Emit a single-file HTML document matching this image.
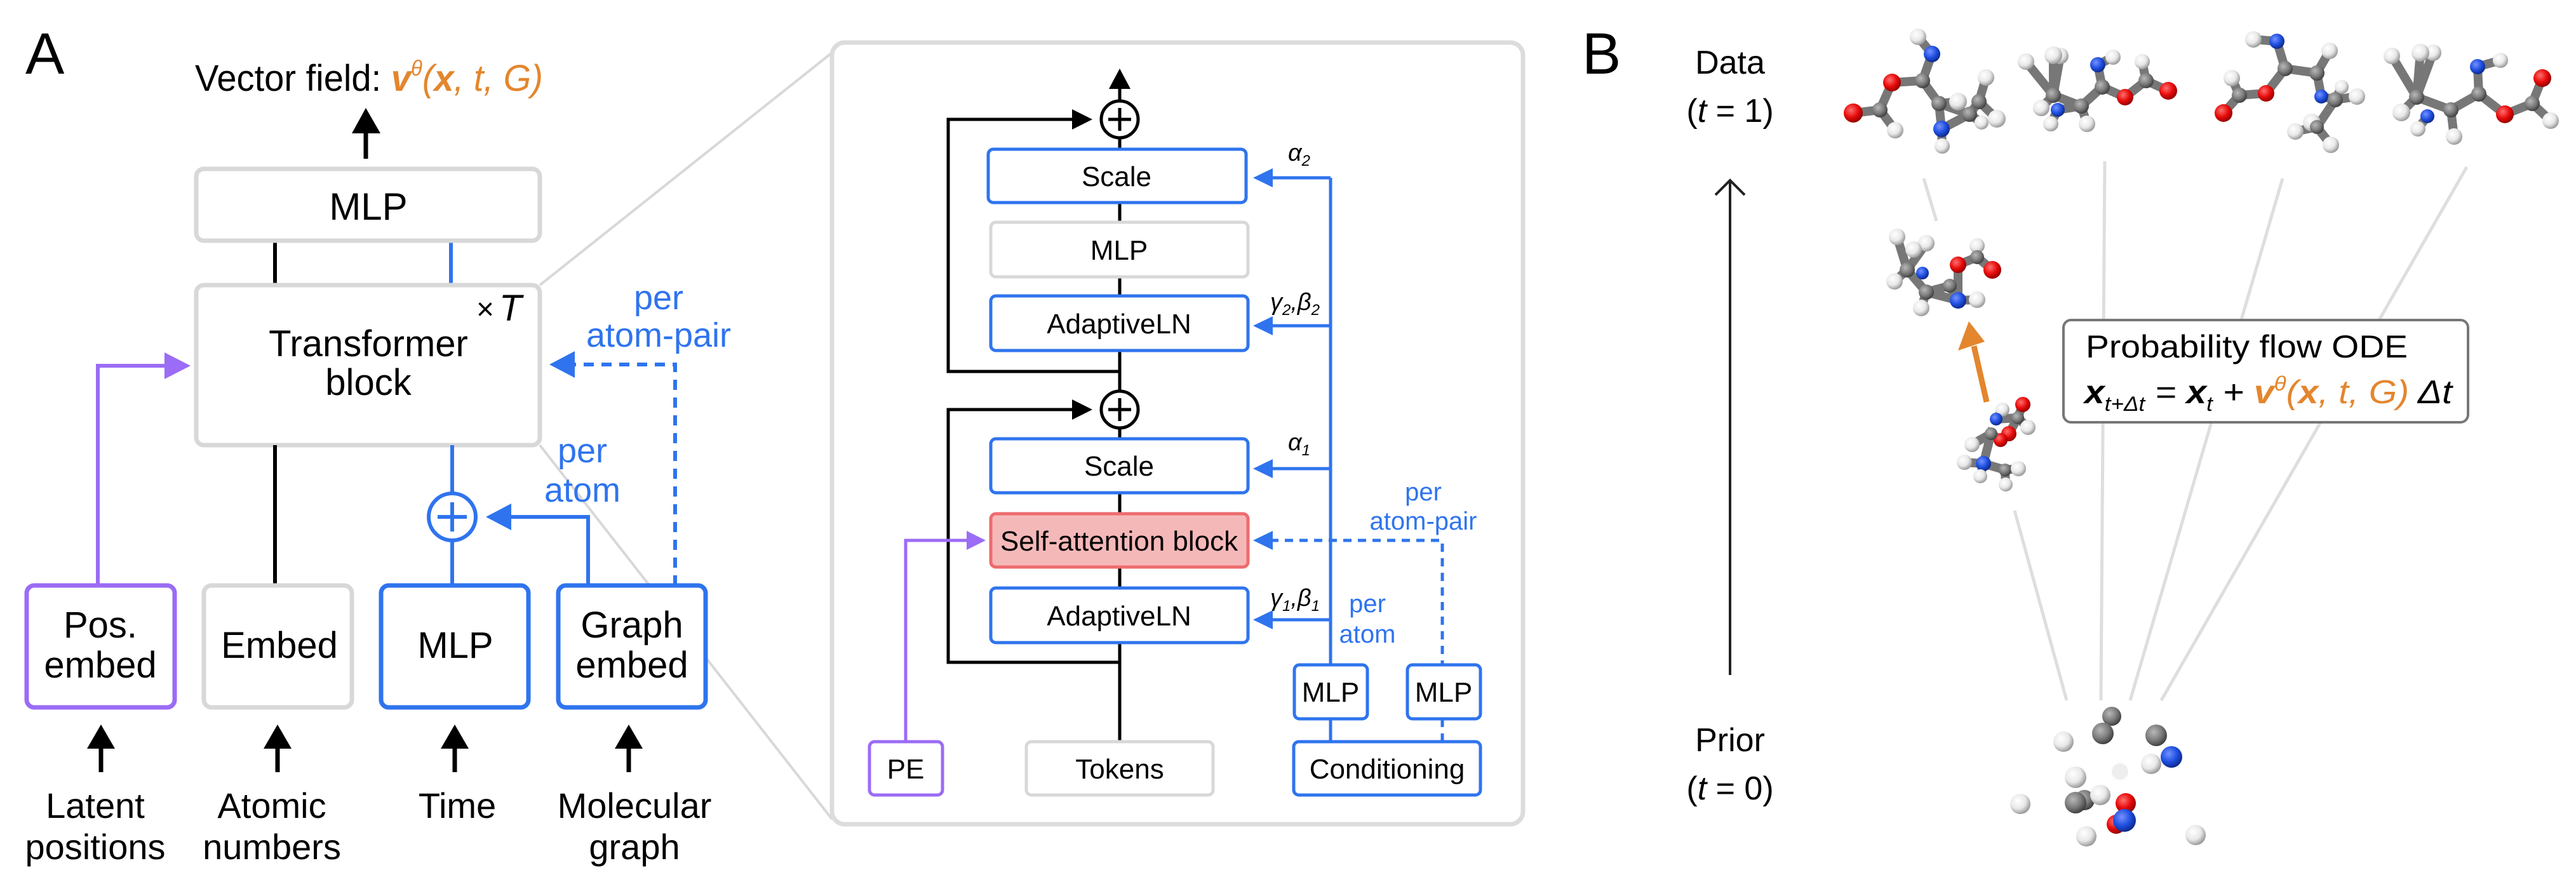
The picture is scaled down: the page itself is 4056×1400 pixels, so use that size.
<!DOCTYPE html>
<html><head><meta charset="utf-8"><style>html,body{margin:0;padding:0;background:#fff}svg{display:block}text{font-family:"Liberation Sans",sans-serif}</style></head><body>
<svg width="4056" height="1400" viewBox="0 0 4056 1400" xmlns="http://www.w3.org/2000/svg">
<defs>
<radialGradient id="gH" cx="0.38" cy="0.35" r="0.7"><stop offset="0" stop-color="#fff"/><stop offset="0.55" stop-color="#e8e8e8"/><stop offset="1" stop-color="#8e8e8e"/></radialGradient>
<radialGradient id="gC" cx="0.38" cy="0.35" r="0.7"><stop offset="0" stop-color="#b8b8b8"/><stop offset="0.55" stop-color="#7c7c7c"/><stop offset="1" stop-color="#383838"/></radialGradient>
<radialGradient id="gN" cx="0.38" cy="0.35" r="0.7"><stop offset="0" stop-color="#7592ff"/><stop offset="0.55" stop-color="#1f4fe0"/><stop offset="1" stop-color="#0a2580"/></radialGradient>
<radialGradient id="gO" cx="0.38" cy="0.35" r="0.7"><stop offset="0" stop-color="#ff7070"/><stop offset="0.55" stop-color="#e80a0a"/><stop offset="1" stop-color="#880000"/></radialGradient>
</defs>

<!-- ===== Panel A ===== -->
<g stroke="#d8d8d8" stroke-width="4"><line x1="850" y1="449" x2="1310" y2="83"/><line x1="850" y1="701" x2="1310" y2="1290"/></g>
<text x="40" y="116" font-size="92">A</text>
<text x="307" y="143" font-size="58" textLength="548" lengthAdjust="spacingAndGlyphs">Vector field: <tspan fill="#e3862e" font-weight="bold" font-style="italic">v</tspan><tspan fill="#e3862e" font-style="italic" font-size="34" dy="-24">θ</tspan><tspan fill="#e3862e" font-style="italic" dy="24">(</tspan><tspan fill="#e3862e" font-weight="bold" font-style="italic">x</tspan><tspan fill="#e3862e" font-style="italic">, t, G)</tspan></text>
<line x1="576" y1="250" x2="576" y2="205" stroke="#000" stroke-width="7"/><polygon points="554,210 599,210 576,170" fill="#000"/>

<line x1="433" y1="379" x2="433" y2="449" stroke="#000" stroke-width="6"/>
<line x1="710" y1="379" x2="710" y2="449" stroke="#2f74ee" stroke-width="6"/>
<rect x="309" y="266" width="541" height="113" rx="12" fill="#fff" stroke="#d8d8d8" stroke-width="7"/>
<text x="580" y="346" font-size="60" text-anchor="middle">MLP</text>
<rect x="309" y="449" width="541" height="252" rx="12" fill="#fff" stroke="#d8d8d8" stroke-width="7"/>
<text x="580" y="561" font-size="58" text-anchor="middle">Transformer</text>
<text x="580" y="622" font-size="58" text-anchor="middle">block</text>
<text x="750" y="503" font-size="48">×</text><text x="786" y="505" font-size="58" font-style="italic" font-family="Liberation Serif, serif">T</text>

<line x1="433" y1="701" x2="433" y2="922" stroke="#000" stroke-width="6"/>
<polyline points="154,922 154,576 262,576" fill="none" stroke="#9b6cf5" stroke-width="6"/>
<polygon points="259,555 259,597 300,576" fill="#9b6cf5"/>
<g stroke="#2f74ee" stroke-width="6" fill="none">
<line x1="712" y1="701" x2="712" y2="776"/><line x1="712" y1="852" x2="712" y2="922"/>
<circle cx="712" cy="814" r="37" fill="#fff"/>
<line x1="689" y1="814" x2="735" y2="814"/><line x1="712" y1="791" x2="712" y2="837"/>
<polyline points="926,922 926,814 800,814"/>
<polyline points="1063,922 1063,574 905,574" stroke-dasharray="16 12"/>
</g>
<polygon points="805,793 805,835 765,814" fill="#2f74ee"/>
<polygon points="905,553 905,595 865,574" fill="#2f74ee"/>
<g fill="#2f74ee" font-size="54" text-anchor="middle">
<text x="1037" y="487">per</text><text x="1037" y="546">atom-pair</text>
<text x="917" y="728">per</text><text x="917" y="790">atom</text>
</g>
<rect x="42" y="922" width="233" height="192" rx="12" fill="#fff" stroke="#9b6cf5" stroke-width="7"/>
<rect x="321" y="922" width="233" height="192" rx="12" fill="#fff" stroke="#d8d8d8" stroke-width="7"/>
<rect x="600" y="922" width="232" height="192" rx="12" fill="#fff" stroke="#2f74ee" stroke-width="7"/>
<rect x="879" y="922" width="232" height="192" rx="12" fill="#fff" stroke="#2f74ee" stroke-width="7"/>
<g font-size="58" text-anchor="middle">
<text x="158" y="1004">Pos.</text><text x="158" y="1067">embed</text>
<text x="440" y="1036">Embed</text>
<text x="717" y="1036">MLP</text>
<text x="995" y="1004">Graph</text><text x="995" y="1067">embed</text>
</g>
<g stroke="#000" stroke-width="7">
<line x1="159" y1="1216" x2="159" y2="1175"/><line x1="437" y1="1216" x2="437" y2="1175"/><line x1="716" y1="1216" x2="716" y2="1175"/><line x1="990" y1="1216" x2="990" y2="1175"/></g>
<g fill="#000"><polygon points="137,1179 181,1179 159,1141"/><polygon points="415,1179 459,1179 437,1141"/><polygon points="694,1179 738,1179 716,1141"/><polygon points="968,1179 1012,1179 990,1141"/></g>
<g font-size="56" text-anchor="middle">
<text x="150" y="1288">Latent</text><text x="150" y="1353">positions</text>
<text x="428" y="1288">Atomic</text><text x="428" y="1353">numbers</text>
<text x="720" y="1288">Time</text>
<text x="999" y="1288">Molecular</text><text x="999" y="1353">graph</text>
</g>

<!-- ===== Inset ===== -->
<rect x="1310" y="67" width="1088" height="1231" rx="20" fill="#fff" stroke="#dcdcdc" stroke-width="7"/>
<g stroke="#000" stroke-width="5" fill="none">
<line x1="1763" y1="140" x2="1763" y2="1168"/>
<polyline points="1763,585 1493,585 1493,188 1690,188"/>
<polyline points="1763,1043 1493,1043 1493,645 1690,645"/>
</g>
<polygon points="1746,140 1780,140 1763,108" fill="#000"/>
<polygon points="1688,172 1688,204 1720,188" fill="#000"/>
<polygon points="1688,629 1688,661 1720,645" fill="#000"/>
<g stroke="#000" stroke-width="5" fill="#fff">
<circle cx="1763" cy="188" r="29"/><circle cx="1763" cy="645" r="29"/></g>
<g stroke="#000" stroke-width="5"><line x1="1745" y1="188" x2="1781" y2="188"/><line x1="1763" y1="170" x2="1763" y2="206"/><line x1="1745" y1="645" x2="1781" y2="645"/><line x1="1763" y1="627" x2="1763" y2="663"/></g>

<g stroke="#2f74ee" stroke-width="5" fill="none">
<line x1="2095" y1="1168" x2="2095" y2="280"/>
<line x1="2095" y1="280" x2="2002" y2="280"/><line x1="2095" y1="513" x2="2002" y2="513"/><line x1="2095" y1="738" x2="2002" y2="738"/><line x1="2095" y1="976" x2="2002" y2="976"/>
<polyline points="2271,1168 2271,851 2002,851" stroke-dasharray="13 10"/>
</g>
<g fill="#2f74ee"><polygon points="2004,265 2004,295 1973,280"/><polygon points="2004,498 2004,528 1973,513"/><polygon points="2004,723 2004,753 1973,738"/><polygon points="2004,961 2004,991 1973,976"/><polygon points="2004,836 2004,866 1973,851"/></g>
<polyline points="1426,1168 1426,851 1525,851" fill="none" stroke="#9b6cf5" stroke-width="5"/>
<polygon points="1522,836 1522,866 1552,851" fill="#9b6cf5"/>

<g stroke-width="5">
<rect x="1556" y="235" width="406" height="84" rx="8" fill="#fff" stroke="#2f74ee"/>
<rect x="1560" y="350" width="405" height="86" rx="8" fill="#fff" stroke="#d8d8d8"/>
<rect x="1560" y="466" width="405" height="86" rx="8" fill="#fff" stroke="#2f74ee"/>
<rect x="1560" y="691" width="405" height="85" rx="8" fill="#fff" stroke="#2f74ee"/>
<rect x="1560" y="809" width="405" height="84" rx="8" fill="#f5b8b8" stroke="#ee6b6e"/>
<rect x="1560" y="926" width="405" height="86" rx="8" fill="#fff" stroke="#2f74ee"/>
<rect x="1616" y="1168" width="294" height="84" rx="8" fill="#fff" stroke="#d8d8d8"/>
<rect x="1369" y="1168" width="115" height="84" rx="8" fill="#fff" stroke="#9b6cf5"/>
<rect x="2037" y="1168" width="294" height="84" rx="8" fill="#fff" stroke="#2f74ee"/>
<rect x="2038" y="1047" width="115" height="85" rx="8" fill="#fff" stroke="#2f74ee"/>
<rect x="2216" y="1047" width="115" height="85" rx="8" fill="#fff" stroke="#2f74ee"/>
</g>
<g font-size="44" text-anchor="middle">
<text x="1758" y="293">Scale</text>
<text x="1762" y="409">MLP</text>
<text x="1762" y="525">AdaptiveLN</text>
<text x="1762" y="749">Scale</text>
<text x="1762" y="867">Self-attention block</text>
<text x="1762" y="985">AdaptiveLN</text>
<text x="1763" y="1226">Tokens</text>
<text x="1426" y="1226">PE</text>
<text x="2184" y="1226">Conditioning</text>
<text x="2095" y="1105">MLP</text>
<text x="2273" y="1105">MLP</text>
</g>
<g font-size="38" font-style="italic">
<text x="2028" y="253">α<tspan font-size="24" dy="8">2</tspan></text>
<text x="2000" y="488">γ<tspan font-size="24" dy="8">2</tspan><tspan dy="-8">,β</tspan><tspan font-size="24" dy="8">2</tspan></text>
<text x="2028" y="709">α<tspan font-size="24" dy="8">1</tspan></text>
<text x="2000" y="954">γ<tspan font-size="24" dy="8">1</tspan><tspan dy="-8">,β</tspan><tspan font-size="24" dy="8">1</tspan></text>
</g>
<g fill="#2f74ee" font-size="40" text-anchor="middle">
<text x="2241" y="788">per</text><text x="2241" y="834">atom-pair</text>
<text x="2153" y="964">per</text><text x="2153" y="1012">atom</text>
</g>

<!-- ===== Panel B ===== -->
<text x="2491" y="116" font-size="92">B</text>
<g font-size="52" text-anchor="middle">
<text x="2724" y="116">Data</text>
<text x="2724" y="192">(<tspan font-style="italic">t</tspan> = 1)</text>
<text x="2724" y="1183">Prior</text>
<text x="2724" y="1259">(<tspan font-style="italic">t</tspan> = 0)</text>
</g>
<line x1="2724" y1="1063" x2="2724" y2="284" stroke="#222" stroke-width="4"/>
<polyline points="2701,307 2724,284 2747,307" fill="none" stroke="#222" stroke-width="4"/>
<g stroke="#dedede" stroke-width="5">
<line x1="3029" y1="281" x2="3049" y2="348"/>
<line x1="3172" y1="804" x2="3254" y2="1103"/>
<line x1="3314" y1="254" x2="3308" y2="1103"/>
<line x1="3594" y1="281" x2="3354" y2="1103"/>
<line x1="3884" y1="263" x2="3403" y2="1103"/>
</g>
<rect x="3249" y="504" width="637" height="161" rx="12" fill="#fff" stroke="#777" stroke-width="4"/>
<text x="3284" y="563" font-size="50" textLength="507" lengthAdjust="spacingAndGlyphs">Probability flow ODE</text>
<text x="3282" y="635" font-size="52" font-style="italic" textLength="579" lengthAdjust="spacingAndGlyphs"><tspan font-weight="bold">x</tspan><tspan font-size="32" dy="12">t+Δt</tspan><tspan dy="-12"> = </tspan><tspan font-weight="bold">x</tspan><tspan font-size="32" dy="12">t</tspan><tspan dy="-12"> + </tspan><tspan fill="#e3862e" font-weight="bold">v</tspan><tspan fill="#e3862e" font-size="32" dy="-20">θ</tspan><tspan fill="#e3862e" dy="20">(</tspan><tspan fill="#e3862e" font-weight="bold">x</tspan><tspan fill="#e3862e">, t, G)</tspan> Δt</text>

<line x1="3128" y1="633" x2="3108" y2="545" stroke="#e3862e" stroke-width="9"/>
<polygon points="3083,552 3125,538 3100,506" fill="#e3862e"/>

<!-- molecule bonds -->
<g stroke="#777" stroke-width="14" stroke-linecap="round" fill="none">
<polyline points="3020,58 3042,85 3027,127 2979,130 2960,173 2918,178"/>
<line x1="2960" y1="173" x2="2984" y2="205"/>
<polyline points="3027,127 3053,163 3057,203 3058,230"/>
<polyline points="3057,203 3101,180 3116,160 3127,122"/>
<line x1="3053" y1="163" x2="3101" y2="180"/><line x1="3116" y1="160" x2="3144" y2="187"/><line x1="3101" y1="180" x2="3120" y2="193"/><line x1="3053" y1="163" x2="3083" y2="160"/>
<line x1="3233" y1="150" x2="3190" y2="97"/><line x1="3233" y1="150" x2="3233" y2="87"/><line x1="3233" y1="150" x2="3244" y2="88"/>
<polyline points="3233,150 3277,167 3310,137 3346,153 3379,127 3414,143"/>
<line x1="3233" y1="150" x2="3214" y2="170"/><line x1="3240" y1="173" x2="3229" y2="195"/><line x1="3240" y1="173" x2="3277" y2="167"/>
<line x1="3277" y1="167" x2="3286" y2="195"/><polyline points="3310,137 3303,102 3327,90"/><line x1="3379" y1="127" x2="3373" y2="97"/>
<polyline points="3548,62 3585,65 3598,108 3568,147 3526,150 3501,178"/>
<line x1="3526" y1="150" x2="3514" y2="123"/>
<polyline points="3598,108 3648,115 3668,80"/><polyline points="3648,115 3655,152 3677,157 3711,152"/>
<line x1="3677" y1="157" x2="3687" y2="137"/><polyline points="3677,157 3648,200 3614,207"/><line x1="3648" y1="200" x2="3640" y2="193"/><line x1="3648" y1="200" x2="3670" y2="228"/>
<line x1="3805" y1="153" x2="3766" y2="88"/><line x1="3805" y1="153" x2="3811" y2="83"/><line x1="3805" y1="153" x2="3831" y2="83"/>
<polyline points="3805,153 3859,173 3903,148 3944,180 3987,163 4003,123"/>
<line x1="3805" y1="153" x2="3781" y2="177"/><line x1="3822" y1="183" x2="3807" y2="203"/><line x1="3859" y1="173" x2="3864" y2="215"/>
<polyline points="3903,148 3901,105 3937,95"/><line x1="3987" y1="163" x2="4016" y2="190"/>
<line x1="3003" y1="425" x2="2987" y2="373"/><line x1="3003" y1="425" x2="3033" y2="383"/><line x1="3003" y1="425" x2="2983" y2="443"/>
<polyline points="3003,425 3033,460 3070,450 3083,473 3113,472"/><line x1="3033" y1="460" x2="3083" y2="473"/><line x1="3033" y1="460" x2="3025" y2="485"/>
<polyline points="3083,473 3083,417 3113,405 3137,425"/><line x1="3113" y1="405" x2="3113" y2="387"/>
<polyline points="3185,637 3177,658 3163,683 3150,693 3135,683 3123,730 3157,740 3178,738"/>
<line x1="3177" y1="658" x2="3193" y2="673"/><line x1="3143" y1="660" x2="3177" y2="658"/><line x1="3153" y1="645" x2="3143" y2="660"/>
<line x1="3135" y1="683" x2="3105" y2="700"/><line x1="3123" y1="730" x2="3093" y2="728"/><line x1="3123" y1="730" x2="3118" y2="750"/><line x1="3157" y1="740" x2="3158" y2="763"/>
</g>
<!-- atoms -->
<g>
<circle cx="3020" cy="58" r="13" fill="url(#gH)"/><circle cx="3042" cy="85" r="13" fill="url(#gN)"/><circle cx="3027" cy="127" r="12" fill="url(#gC)"/><circle cx="2979" cy="130" r="14" fill="url(#gO)"/><circle cx="2960" cy="173" r="12" fill="url(#gC)"/><circle cx="2918" cy="178" r="15" fill="url(#gO)"/><circle cx="2984" cy="205" r="13" fill="url(#gH)"/><circle cx="3053" cy="163" r="12" fill="url(#gC)"/><circle cx="3127" cy="122" r="13" fill="url(#gH)"/><circle cx="3116" cy="160" r="12" fill="url(#gC)"/><circle cx="3101" cy="180" r="12" fill="url(#gC)"/><circle cx="3120" cy="193" r="11" fill="url(#gH)"/><circle cx="3144" cy="187" r="14" fill="url(#gH)"/><circle cx="3083" cy="160" r="14" fill="url(#gH)"/><circle cx="3057" cy="203" r="13" fill="url(#gN)"/><circle cx="3058" cy="230" r="12" fill="url(#gH)"/>
<circle cx="3190" cy="97" r="13" fill="url(#gH)"/><circle cx="3244" cy="88" r="13" fill="url(#gH)"/><circle cx="3233" cy="87" r="14" fill="url(#gH)"/><circle cx="3233" cy="150" r="12" fill="url(#gC)"/><circle cx="3240" cy="173" r="11" fill="url(#gN)"/><circle cx="3214" cy="170" r="13" fill="url(#gH)"/><circle cx="3229" cy="195" r="12" fill="url(#gH)"/><circle cx="3277" cy="167" r="12" fill="url(#gC)"/><circle cx="3286" cy="195" r="13" fill="url(#gH)"/><circle cx="3310" cy="137" r="12" fill="url(#gC)"/><circle cx="3327" cy="90" r="12" fill="url(#gH)"/><circle cx="3303" cy="102" r="12" fill="url(#gN)"/><circle cx="3346" cy="153" r="13" fill="url(#gO)"/><circle cx="3373" cy="97" r="12" fill="url(#gH)"/><circle cx="3379" cy="127" r="12" fill="url(#gC)"/><circle cx="3414" cy="143" r="14" fill="url(#gO)"/>
<circle cx="3548" cy="62" r="13" fill="url(#gH)"/><circle cx="3585" cy="65" r="12" fill="url(#gN)"/><circle cx="3598" cy="108" r="12" fill="url(#gC)"/><circle cx="3514" cy="123" r="13" fill="url(#gH)"/><circle cx="3526" cy="150" r="12" fill="url(#gC)"/><circle cx="3568" cy="147" r="13" fill="url(#gO)"/><circle cx="3501" cy="178" r="14" fill="url(#gO)"/><circle cx="3668" cy="80" r="13" fill="url(#gH)"/><circle cx="3648" cy="115" r="12" fill="url(#gC)"/><circle cx="3655" cy="152" r="11" fill="url(#gN)"/><circle cx="3687" cy="137" r="11" fill="url(#gH)"/><circle cx="3711" cy="152" r="13" fill="url(#gH)"/><circle cx="3677" cy="157" r="12" fill="url(#gC)"/><circle cx="3640" cy="193" r="14" fill="url(#gH)"/><circle cx="3648" cy="200" r="11" fill="url(#gC)"/><circle cx="3614" cy="207" r="13" fill="url(#gH)"/><circle cx="3670" cy="228" r="13" fill="url(#gH)"/>
<circle cx="3766" cy="88" r="13" fill="url(#gH)"/><circle cx="3831" cy="83" r="13" fill="url(#gH)"/><circle cx="3811" cy="83" r="14" fill="url(#gH)"/><circle cx="3805" cy="153" r="12" fill="url(#gC)"/><circle cx="3822" cy="183" r="11" fill="url(#gN)"/><circle cx="3781" cy="177" r="14" fill="url(#gH)"/><circle cx="3807" cy="203" r="12" fill="url(#gH)"/><circle cx="3859" cy="173" r="12" fill="url(#gC)"/><circle cx="3864" cy="215" r="13" fill="url(#gH)"/><circle cx="3937" cy="95" r="12" fill="url(#gH)"/><circle cx="3901" cy="105" r="12" fill="url(#gN)"/><circle cx="3903" cy="148" r="12" fill="url(#gC)"/><circle cx="3944" cy="180" r="14" fill="url(#gO)"/><circle cx="3987" cy="163" r="12" fill="url(#gC)"/><circle cx="4003" cy="123" r="14" fill="url(#gO)"/><circle cx="4016" cy="190" r="13" fill="url(#gH)"/>
<circle cx="2987" cy="373" r="13" fill="url(#gH)"/><circle cx="3033" cy="383" r="13" fill="url(#gH)"/><circle cx="3013" cy="393" r="13" fill="url(#gH)"/><circle cx="2983" cy="443" r="13" fill="url(#gH)"/><circle cx="3027" cy="430" r="10" fill="url(#gN)"/><circle cx="3003" cy="425" r="12" fill="url(#gC)"/><circle cx="3070" cy="450" r="11" fill="url(#gC)"/><circle cx="3033" cy="460" r="12" fill="url(#gC)"/><circle cx="3025" cy="485" r="13" fill="url(#gH)"/><circle cx="3113" cy="387" r="12" fill="url(#gH)"/><circle cx="3113" cy="405" r="11" fill="url(#gC)"/><circle cx="3083" cy="417" r="13" fill="url(#gO)"/><circle cx="3137" cy="425" r="14" fill="url(#gO)"/><circle cx="3113" cy="472" r="13" fill="url(#gH)"/><circle cx="3083" cy="473" r="13" fill="url(#gN)"/>
<circle cx="3153" cy="645" r="11" fill="url(#gH)"/><circle cx="3143" cy="660" r="10" fill="url(#gN)"/><circle cx="3185" cy="637" r="12" fill="url(#gO)"/><circle cx="3177" cy="658" r="10" fill="url(#gC)"/><circle cx="3193" cy="673" r="12" fill="url(#gH)"/><circle cx="3163" cy="683" r="12" fill="url(#gO)"/><circle cx="3150" cy="693" r="11" fill="url(#gO)"/><circle cx="3105" cy="700" r="12" fill="url(#gH)"/><circle cx="3135" cy="683" r="10" fill="url(#gC)"/><circle cx="3093" cy="728" r="12" fill="url(#gH)"/><circle cx="3123" cy="730" r="12" fill="url(#gN)"/><circle cx="3157" cy="740" r="10" fill="url(#gC)"/><circle cx="3178" cy="738" r="12" fill="url(#gH)"/><circle cx="3118" cy="750" r="11" fill="url(#gH)"/><circle cx="3158" cy="763" r="11" fill="url(#gH)"/>
<circle cx="3325" cy="1128" r="15" fill="url(#gC)"/><circle cx="3311" cy="1155" r="17" fill="url(#gC)"/><circle cx="3249" cy="1168" r="16" fill="url(#gH)"/><circle cx="3395" cy="1158" r="17" fill="url(#gC)"/><circle cx="3387" cy="1203" r="16" fill="url(#gH)"/><circle cx="3419" cy="1192" r="17" fill="url(#gN)"/><circle cx="3338" cy="1215" r="13" fill="#eee"/><circle cx="3268" cy="1224" r="17" fill="url(#gH)"/><circle cx="3282" cy="1260" r="16" fill="url(#gC)"/><circle cx="3268" cy="1264" r="17" fill="url(#gC)"/><circle cx="3307" cy="1252" r="16" fill="url(#gH)"/><circle cx="3181" cy="1266" r="16" fill="url(#gH)"/><circle cx="3347" cy="1265" r="16" fill="url(#gO)"/><circle cx="3332" cy="1298" r="15" fill="url(#gO)"/><circle cx="3345" cy="1292" r="18" fill="url(#gN)"/><circle cx="3285" cy="1317" r="16" fill="url(#gH)"/><circle cx="3457" cy="1315" r="16" fill="url(#gH)"/>
</g>
</svg>
</body></html>
